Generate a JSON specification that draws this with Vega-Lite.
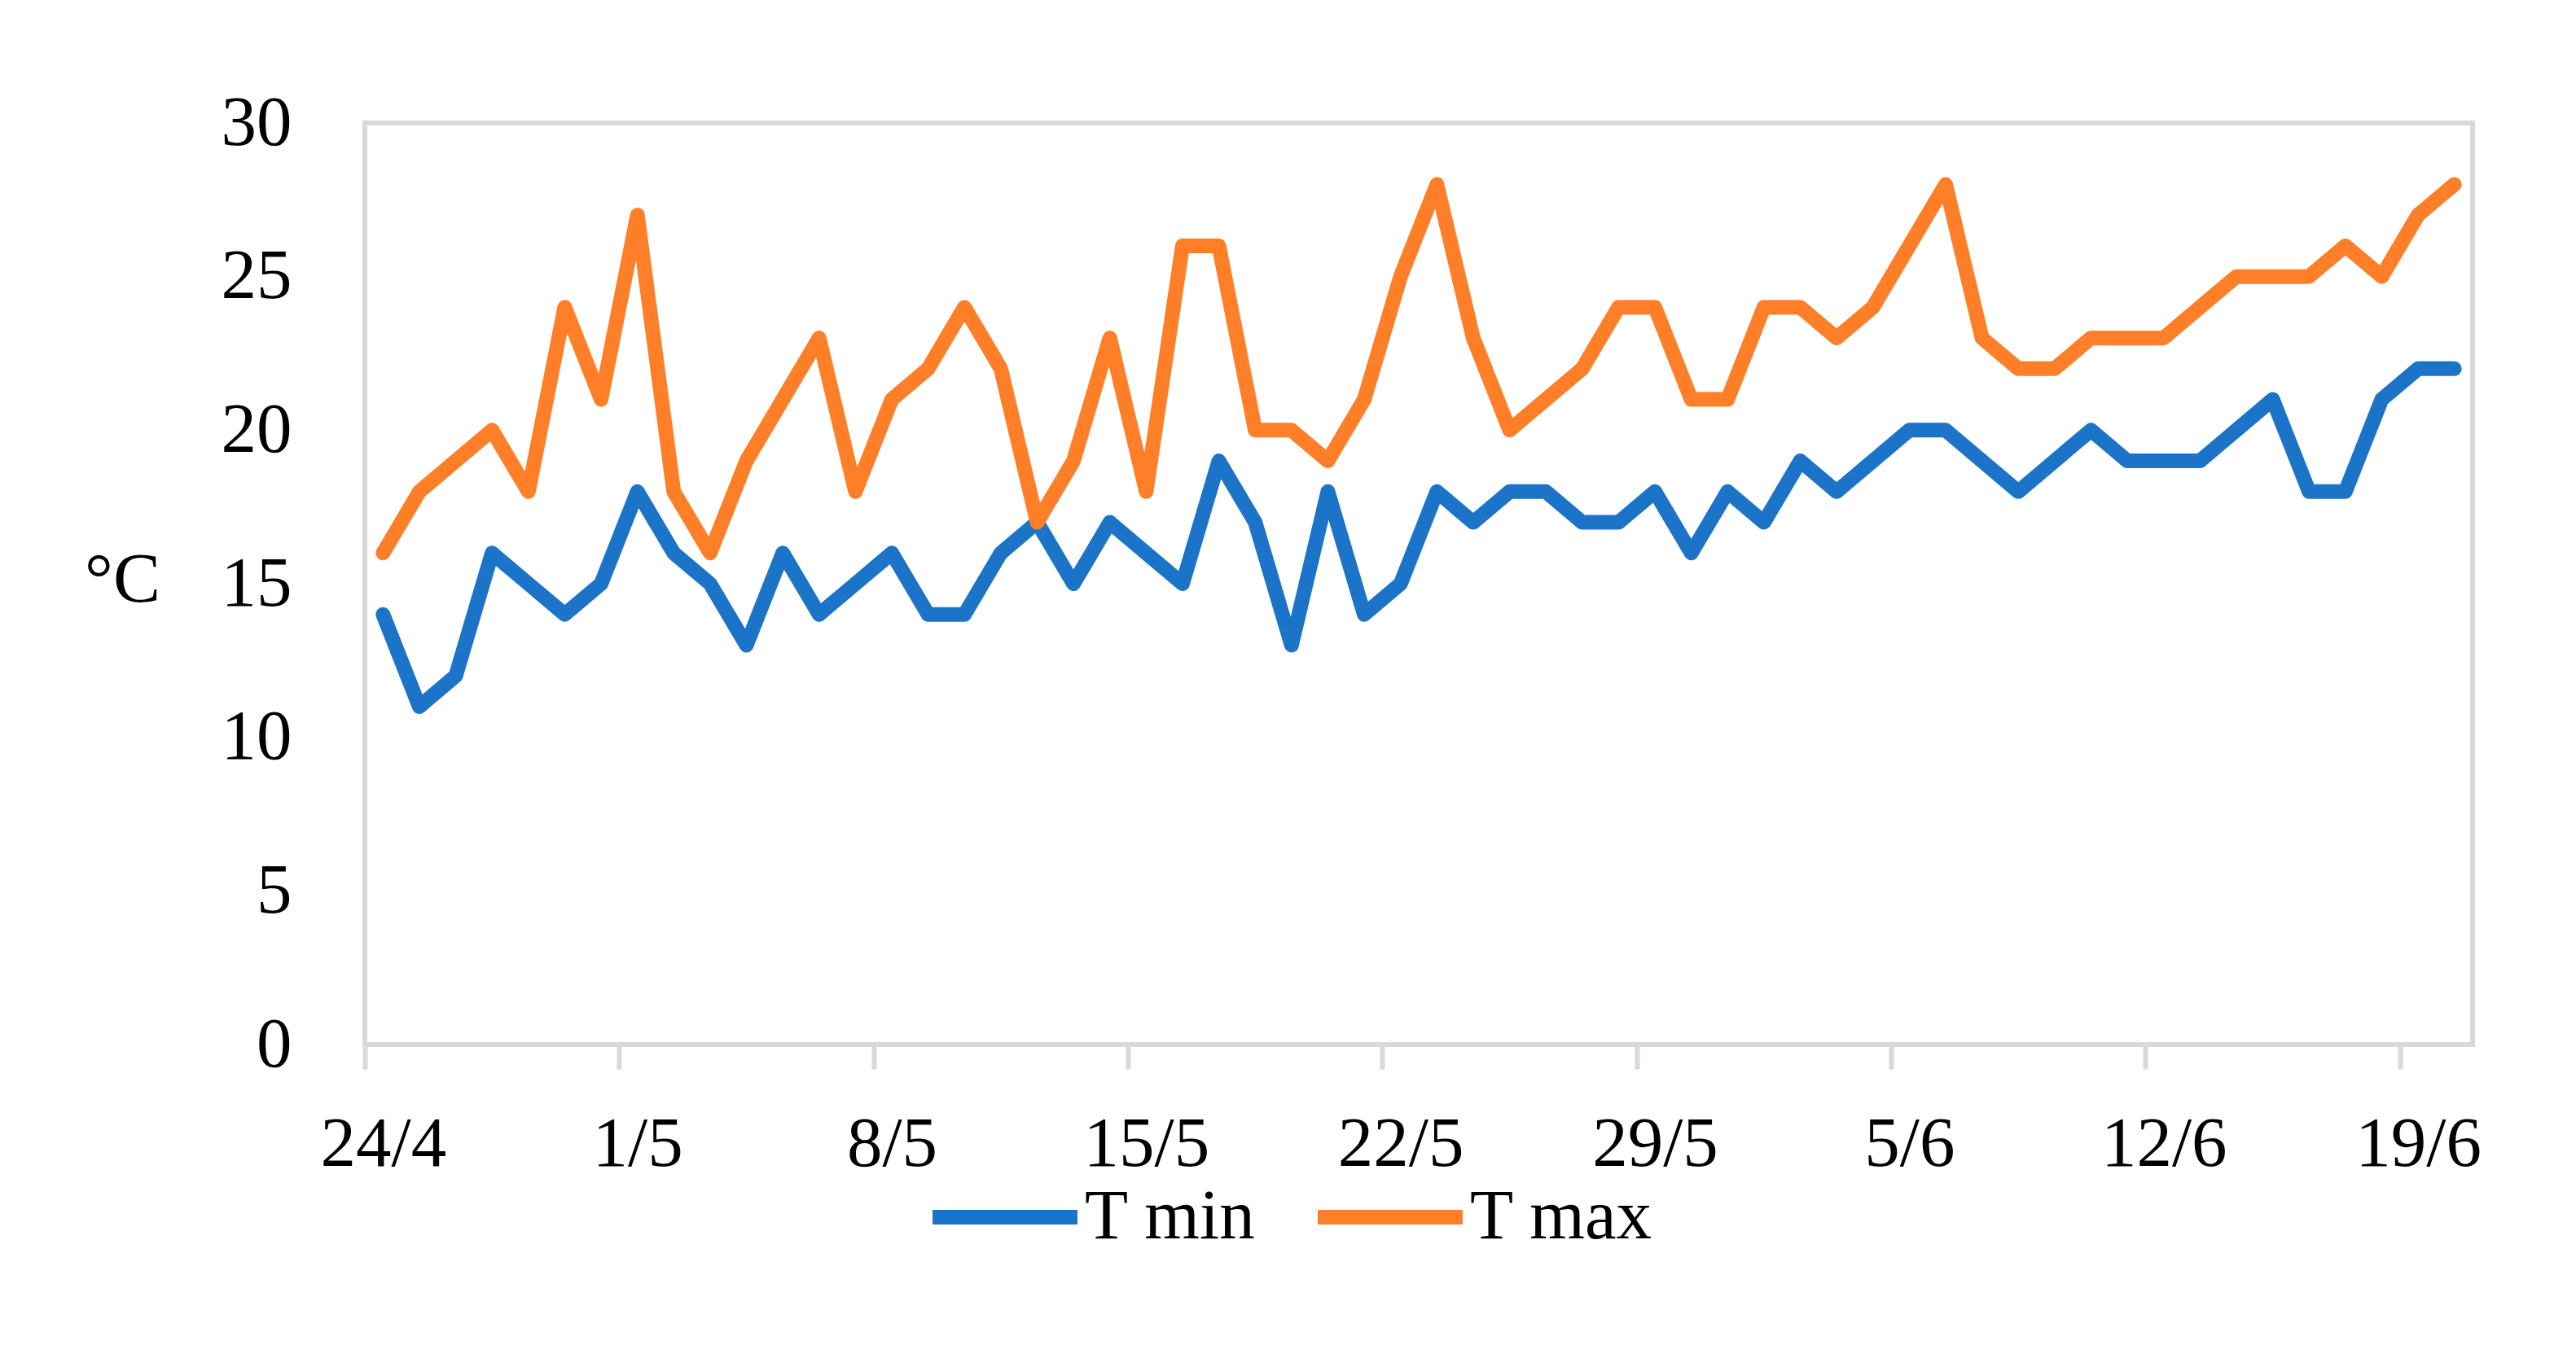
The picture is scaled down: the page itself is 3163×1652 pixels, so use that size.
{
  "$schema": "https://vega.github.io/schema/vega-lite/v6.json",
  "width": 2588,
  "height": 1132,
  "autosize": {"type": "none"},
  "padding": {"left": 448, "top": 151, "right": 127, "bottom": 369},
  "background": "white",
  "config": {
    "view": {"stroke": "#D9D9D9", "strokeWidth": 6},
    "font": "Liberation Serif"
  },
  "data": {
    "values": [
      {"date": "2020-04-24", "T min": 14, "T max": 16},
      {"date": "2020-04-25", "T min": 11, "T max": 18},
      {"date": "2020-04-26", "T min": 12, "T max": 19},
      {"date": "2020-04-27", "T min": 16, "T max": 20},
      {"date": "2020-04-28", "T min": 15, "T max": 18},
      {"date": "2020-04-29", "T min": 14, "T max": 24},
      {"date": "2020-04-30", "T min": 15, "T max": 21},
      {"date": "2020-05-01", "T min": 18, "T max": 27},
      {"date": "2020-05-02", "T min": 16, "T max": 18},
      {"date": "2020-05-03", "T min": 15, "T max": 16},
      {"date": "2020-05-04", "T min": 13, "T max": 19},
      {"date": "2020-05-05", "T min": 16, "T max": 21},
      {"date": "2020-05-06", "T min": 14, "T max": 23},
      {"date": "2020-05-07", "T min": 15, "T max": 18},
      {"date": "2020-05-08", "T min": 16, "T max": 21},
      {"date": "2020-05-09", "T min": 14, "T max": 22},
      {"date": "2020-05-10", "T min": 14, "T max": 24},
      {"date": "2020-05-11", "T min": 16, "T max": 22},
      {"date": "2020-05-12", "T min": 17, "T max": 17},
      {"date": "2020-05-13", "T min": 15, "T max": 19},
      {"date": "2020-05-14", "T min": 17, "T max": 23},
      {"date": "2020-05-15", "T min": 16, "T max": 18},
      {"date": "2020-05-16", "T min": 15, "T max": 26},
      {"date": "2020-05-17", "T min": 19, "T max": 26},
      {"date": "2020-05-18", "T min": 17, "T max": 20},
      {"date": "2020-05-19", "T min": 13, "T max": 20},
      {"date": "2020-05-20", "T min": 18, "T max": 19},
      {"date": "2020-05-21", "T min": 14, "T max": 21},
      {"date": "2020-05-22", "T min": 15, "T max": 25},
      {"date": "2020-05-23", "T min": 18, "T max": 28},
      {"date": "2020-05-24", "T min": 17, "T max": 23},
      {"date": "2020-05-25", "T min": 18, "T max": 20},
      {"date": "2020-05-26", "T min": 18, "T max": 21},
      {"date": "2020-05-27", "T min": 17, "T max": 22},
      {"date": "2020-05-28", "T min": 17, "T max": 24},
      {"date": "2020-05-29", "T min": 18, "T max": 24},
      {"date": "2020-05-30", "T min": 16, "T max": 21},
      {"date": "2020-05-31", "T min": 18, "T max": 21},
      {"date": "2020-06-01", "T min": 17, "T max": 24},
      {"date": "2020-06-02", "T min": 19, "T max": 24},
      {"date": "2020-06-03", "T min": 18, "T max": 23},
      {"date": "2020-06-04", "T min": 19, "T max": 24},
      {"date": "2020-06-05", "T min": 20, "T max": 26},
      {"date": "2020-06-06", "T min": 20, "T max": 28},
      {"date": "2020-06-07", "T min": 19, "T max": 23},
      {"date": "2020-06-08", "T min": 18, "T max": 22},
      {"date": "2020-06-09", "T min": 19, "T max": 22},
      {"date": "2020-06-10", "T min": 20, "T max": 23},
      {"date": "2020-06-11", "T min": 19, "T max": 23},
      {"date": "2020-06-12", "T min": 19, "T max": 23},
      {"date": "2020-06-13", "T min": 19, "T max": 24},
      {"date": "2020-06-14", "T min": 20, "T max": 25},
      {"date": "2020-06-15", "T min": 21, "T max": 25},
      {"date": "2020-06-16", "T min": 18, "T max": 25},
      {"date": "2020-06-17", "T min": 18, "T max": 26},
      {"date": "2020-06-18", "T min": 21, "T max": 25},
      {"date": "2020-06-19", "T min": 22, "T max": 27},
      {"date": "2020-06-20", "T min": 22, "T max": 28}
    ]
  },
  "transform": [{"fold": ["T min", "T max"], "as": ["series", "value"]}],
  "mark": {"type": "line", "strokeWidth": 18, "strokeCap": "round", "strokeJoin": "round"},
  "encoding": {
    "x": {
      "field": "date",
      "type": "temporal",
      "timeUnit": "utcyearmonthdate",
      "bandPosition": 0.5,
      "scale": {
        "domain": [
          {"year": 2020, "month": 4, "date": 24, "utc": true},
          {"year": 2020, "month": 6, "date": 21, "utc": true}
        ],
        "nice": false
      },
      "axis": {
        "title": null,
        "values": [
          {"year": 2020, "month": 4, "date": 24, "utc": true},
          {"year": 2020, "month": 5, "date": 1, "utc": true},
          {"year": 2020, "month": 5, "date": 8, "utc": true},
          {"year": 2020, "month": 5, "date": 15, "utc": true},
          {"year": 2020, "month": 5, "date": 22, "utc": true},
          {"year": 2020, "month": 5, "date": 29, "utc": true},
          {"year": 2020, "month": 6, "date": 5, "utc": true},
          {"year": 2020, "month": 6, "date": 12, "utc": true},
          {"year": 2020, "month": 6, "date": 19, "utc": true}
        ],
        "labelExpr": "utcFormat(datum.value, '%-d/%-m')",
        "labelOffset": 22.3,
        "labelFlush": false,
        "labelOverlap": false,
        "labelBound": false,
        "labelFont": "Liberation Serif",
        "labelFontSize": 87,
        "labelColor": "black",
        "labelPadding": 49,
        "labelAngle": 0,
        "domain": false,
        "grid": false,
        "ticks": true,
        "tickColor": "#D9D9D9",
        "tickWidth": 6,
        "tickSize": 30
      }
    },
    "y": {
      "field": "value",
      "type": "quantitative",
      "scale": {"domain": [0, 30], "nice": false, "zero": true},
      "axis": {
        "title": "°C",
        "titleAngle": 0,
        "titleX": -298,
        "titleY": 561,
        "titleAlign": "center",
        "titleBaseline": "middle",
        "titleFont": "Liberation Serif",
        "titleFontSize": 87,
        "titleFontWeight": "normal",
        "titleColor": "black",
        "values": [0, 5, 10, 15, 20, 25, 30],
        "labelFont": "Liberation Serif",
        "labelFontSize": 87,
        "labelColor": "black",
        "labelPadding": 90,
        "domain": false,
        "ticks": false,
        "grid": false
      }
    },
    "color": {
      "field": "series",
      "type": "nominal",
      "scale": {"domain": ["T min", "T max"], "range": ["#1B74C8", "#FE7F27"]},
      "legend": {
        "title": null,
        "orient": "none",
        "legendX": 688,
        "legendY": 1246,
        "direction": "horizontal",
        "symbolType": "stroke",
        "symbolSize": 31684,
        "symbolStrokeWidth": 18,
        "labelFont": "Liberation Serif",
        "labelFontSize": 87,
        "labelColor": "black",
        "labelLimit": 0,
        "labelOffset": 0,
        "columnPadding": 39,
        "padding": 0
      }
    }
  }
}
